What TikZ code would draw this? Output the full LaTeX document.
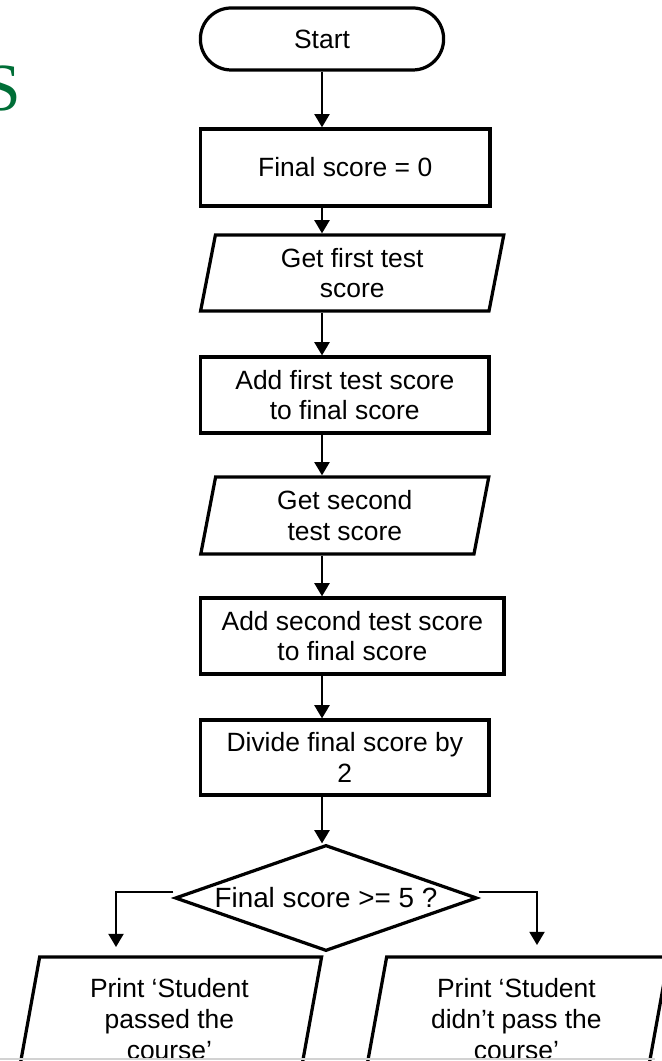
\documentclass[tikz,border=0pt]{standalone}
\usepackage{fontspec}
\setmainfont{Liberation Sans}
\newfontfamily\titlefont{Liberation Serif}
\usepackage{tikz}
\usetikzlibrary{arrows.meta,shapes.geometric}
\definecolor{titlegreen}{RGB}{0,110,55}
\tikzset{
  terminal/.style={draw, line width=2.3pt, rounded corners=0.77cm, minimum width=6.08cm, minimum height=1.55cm},
  process/.style={draw, line width=2.3pt, rectangle, minimum height=1.9cm, align=center},
  io/.style={draw, line width=2.3pt, trapezium, trapezium left angle=76, trapezium right angle=104,
    trapezium stretches body, minimum height=1.9cm, align=center},
  decision/.style={draw, line width=2.3pt, diamond, inner sep=0pt},
  arr/.style={-{Triangle[length=0.33cm,width=0.38cm]}, line width=1.2pt},
}

\begin{document}
\begin{tikzpicture}[font=\fontsize{18.8}{21.8}\selectfont]
    \useasboundingbox (0,0) rectangle (16.55,26.525);
    \clip (0,0) rectangle (16.55,26.525);
    \node[anchor=base east, inner sep=0pt, text=titlegreen, font=\titlefont\fontsize{48}{48}\selectfont] (title) at (0.525,23.75) {S};
    \node[terminal] (start) at (8.05,25.55) {Start};
    \node[process, minimum width=7.24cm, minimum height=1.925cm] (init) at (8.63,22.34) {Final score = 0};
    \node[io, minimum width=7.58cm] (get1) at (8.805,19.7) {Get first test\\score};
    \node[process, minimum width=7.21cm] (add1) at (8.62,16.65) {Add first test score\\to final score};
    \node[io, minimum width=7.2cm, minimum height=1.925cm] (get2) at (8.62,13.64) {Get second\\test score};
    \node[process, minimum width=7.58cm] (add2) at (8.81,10.625) {Add second test score\\to final score};
    \node[process, minimum width=7.21cm, minimum height=1.875cm] (div) at (8.62,7.5875) {Divide final score by\\2};
    \node[decision, minimum width=7.55cm, minimum height=2.65cm, label={[font=\fontsize{19.8}{22}\selectfont]center:Final score >= 5 ?}] (test) at (8.15,4.075) {};
    \node[io, minimum width=7.61cm, minimum height=3.1cm] (pass) at (4.235,1.05) {Print ‘Student\\passed the\\course’};
    \node[io, minimum width=7.61cm, minimum height=3.1cm] (fail) at (12.91,1.05) {Print ‘Student\\didn’t pass the\\course’};
    \coordinate (yes) at (2.9,2.85);
    \coordinate (no) at (13.425,2.9);
    \draw[arr] (start) -- (start |- init.north);
    \draw[arr] (start |- init.south) -- (start |- get1.north);
    \draw[arr] (start |- get1.south) -- (start |- add1.north);
    \draw[arr] (start |- add1.south) -- (start |- get2.north);
    \draw[arr] (start |- get2.south) -- (start |- add2.north);
    \draw[arr] (start |- add2.south) -- (start |- div.north);
    \draw[arr] (start |- div.south) -- (start |- test.north);
    \draw[arr] ([yshift=0.15cm]test.west) -| (yes);
    \draw[arr] ([yshift=0.15cm]test.east) -| (no);
    \draw[gray!35, line width=1pt] (0,0.05) -- (16.375,0.05);
\end{tikzpicture}
\end{document}
